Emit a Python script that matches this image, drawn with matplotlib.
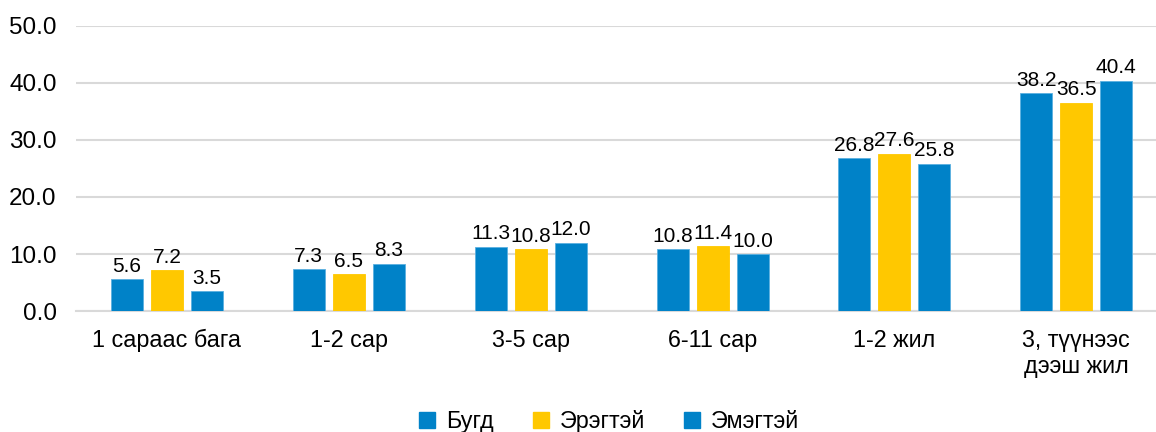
import numpy as np
import matplotlib.pyplot as plt
from matplotlib.patches import Patch

plt.rcParams['font.family'] = ['Liberation Sans', 'DejaVu Sans']

# data
categories = ["1 сараас бага", "1-2 сар", "3-5 сар", "6-11 сар", "1-2 жил", "3, түүнээс\nдээш жил"]
series_names = ["Бугд", "Эрэгтэй", "Эмэгтэй"]
total = [5.6, 7.3, 11.3, 10.8, 26.8, 38.2]
male = [7.2, 6.5, 10.8, 11.4, 27.6, 36.5]
female = [3.5, 8.3, 12.0, 10.0, 25.8, 40.4]

BLUE = "#0082C8"
YELLOW = "#FFC800"
colors = [BLUE, YELLOW, BLUE]

fig = plt.figure(figsize=(11.56, 4.32), dpi=100)
ax = fig.add_axes([0.0657, 0.280, 0.944, 0.660])

x = np.arange(len(categories))
width = 0.176
offsets = [-0.22, 0.0, 0.22]

for vals, off, col in zip([total, male, female], offsets, colors):
    bars = ax.bar(x + off, vals, width=width, color=col, edgecolor="#5BB0E0" if col == BLUE else col,
                  linewidth=0.6, zorder=3)
    for b, v in zip(bars, vals):
        ax.annotate(f"{v:.1f}", (b.get_x() + b.get_width() / 2, v),
                    xytext=(0, 2.5), textcoords="offset points",
                    ha="center", va="bottom", fontsize=15, color="#000000")

ax.set_xlim(-0.5, len(categories) - 0.5)
ax.set_ylim(0, 50)
ax.set_yticks(np.arange(0, 51, 10))
ax.set_yticklabels([f"{t:.1f}" for t in np.arange(0, 51, 10)], fontsize=17.5)
ax.set_xticks(x)
ax.set_xticklabels(categories, fontsize=16.8, linespacing=1.15)
ax.tick_params(axis="both", length=0)
ax.tick_params(axis="x", pad=13)
ax.tick_params(axis="y", pad=14)

ax.yaxis.grid(True, color="#D9D9D9", linewidth=1.5, zorder=0)
for s in ["top", "right", "left"]:
    ax.spines[s].set_visible(False)
ax.spines["bottom"].set_color("#D9D9D9")
ax.spines["bottom"].set_linewidth(1.5)

handles = [Patch(facecolor=c, edgecolor=c) for c in colors]
fig.legend(handles, series_names, loc="center", bbox_to_anchor=(0.527, 0.024),
           ncol=3, frameon=False, fontsize=16.8, handlelength=0.68, handleheight=0.68,
           handletextpad=0.45, columnspacing=1.7)

fig.savefig("out.png", dpi=100)
